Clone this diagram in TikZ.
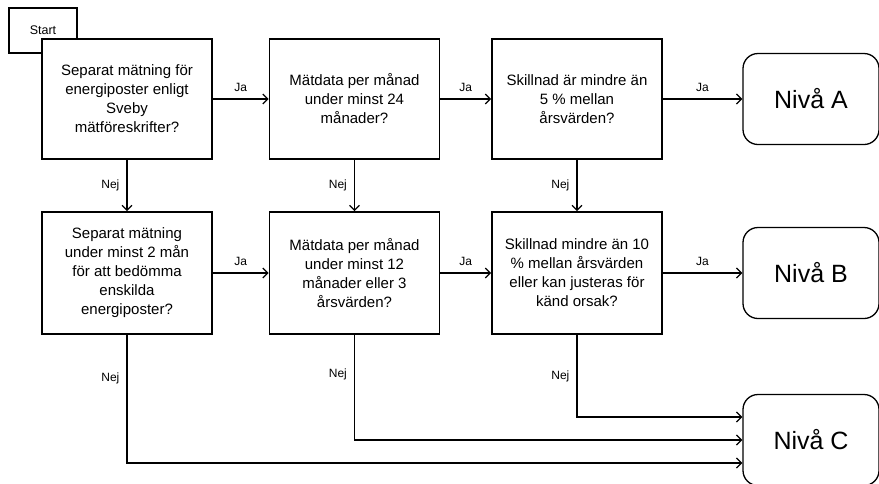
\documentclass[tikz,border=0pt]{standalone}
\usepackage{fontspec}
\setmainfont{Liberation Sans}
\usetikzlibrary{arrows.meta}

\newcommand{\FragaW}{170pt}
\newcommand{\FragaH}{120pt}
\newcommand{\NivaW}{136pt}
\newcommand{\NivaH}{91pt}
\newcommand{\ColA}{127}
\newcommand{\ColB}{354.5}
\newcommand{\ColC}{577}
\newcommand{\ColN}{811}
\newcommand{\RowA}{99}
\newcommand{\RowB}{273}
\newcommand{\RowC}{440}

\tikzset{
    fraga/.style={draw, fill=white, line width=1.6pt, minimum width=\FragaW,
        minimum height=\FragaH, inner sep=0pt, align=center,
        font=\fontsize{15}{19}\selectfont},
    niva/.style={draw, fill=white, rounded corners=15pt, line width=1.3pt,
        minimum width=\NivaW, minimum height=\NivaH,
        font=\fontsize{25}{30}\selectfont},
    pil/.style={-{Straight Barb[length=5pt,width=10pt]}, line width=1.3pt},
    svar/.style={font=\fontsize{12}{14}\selectfont, inner sep=7pt},
}

\begin{document}
\begin{tikzpicture}[x=1pt, y=-1pt]
    \useasboundingbox (0,0) rectangle (879,483);

    \node [draw, line width=1.6pt, minimum width=68pt, minimum height=45pt,
        font=\fontsize{12.5}{14}\selectfont] (start) at (43,30.5) {Start};

    \node [fraga] (sep)    at (\ColA,\RowA) {Separat mätning för\\energiposter enligt\\Sveby\\mätföreskrifter?};
    \node [fraga] (man24)  at (\ColB,\RowA) {Mätdata per månad\\under minst 24\\månader?};
    \node [fraga] (skill5) at (\ColC,\RowA) {Skillnad är mindre än\\5 \% mellan\\årsvärden?};

    \node [fraga, minimum height=122pt] (sep2)    at (\ColA,\RowB) {Separat mätning\\under minst 2 mån\\för att bedömma\\enskilda\\energiposter?};
    \node [fraga, minimum height=122pt] (man12)   at (\ColB,\RowB) {Mätdata per månad\\under minst 12\\månader eller 3\\årsvärden?};
    \node [fraga, minimum height=122pt] (skill10) at (\ColC,\RowB) {Skillnad mindre än 10\\\% mellan årsvärden\\eller kan justeras för\\känd orsak?};

    \node [niva] (nivaA) at (\ColN,\RowA) {Nivå A};
    \node [niva] (nivaB) at (\ColN,\RowB) {Nivå B};
    \node [niva] (nivaC) at (\ColN,\RowC) {Nivå C};

    \draw[pil] (sep) -- node[svar,above] {Ja} (man24);
    \draw[pil] (man24) -- node[svar,above] {Ja} (skill5);
    \draw[pil] (skill5) -- node[svar,above] {Ja} (nivaA);
    \draw[pil] (sep2) -- node[svar,above] {Ja} (man12);
    \draw[pil] (man12) -- node[svar,above] {Ja} (skill10);
    \draw[pil] (skill10) -- node[svar,above] {Ja} (nivaB);

    \draw[pil] (sep) -- node[svar,left] {Nej} (sep2);
    \draw[pil] (man24) -- node[svar,left] {Nej} (man12);
    \draw[pil] (skill5) -- node[svar,left] {Nej} (skill10);

    \draw[pil] (skill10) |- node[svar,left,pos=0.25] {Nej} ([yshift=23pt]nivaC.west);
    \draw[pil] (man12) |- node[svar,left,pos=0.19] {Nej} (nivaC.west);
    \draw[pil] (sep2) |- node[svar,left,pos=0.17] {Nej} ([yshift=-23pt]nivaC.west);
\end{tikzpicture}
\end{document}
